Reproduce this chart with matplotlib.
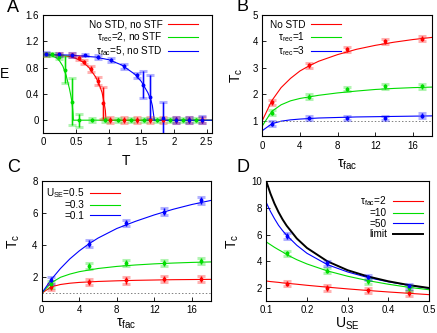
import matplotlib
matplotlib.use("Agg")
import matplotlib.pyplot as plt

plt.rcParams["font.family"] = ["Liberation Sans", "DejaVu Sans"]
plt.rcParams["mathtext.fontset"] = "custom"
plt.rcParams["mathtext.rm"] = "Liberation Sans"
plt.rcParams["mathtext.it"] = "Liberation Sans:italic"

RED = "#ff0000"
GREEN = "#00dd00"
BLUE = "#0000ff"

# ---- panel A: E vs T
a_labels = ["No STD, no STF", "τ$_{\\rm rec}$=2, no STF", "τ$_{\\rm fac}$=5, no STD"]
a_red_T = [0.04, 0.24, 0.44, 0.54, 0.63, 0.73, 0.83, 0.92, 1.02, 1.23, 1.43, 1.63, 1.83, 2.03, 2.23, 2.43]
a_red_E = [1.0, 1.0, 0.99, 0.94, 0.88, 0.78, 0.6, 0.26, 0.0, 0.0, 0.0, 0.0, 0.0, 0.0, 0.0, 0.0]
a_red_err = [0.02, 0.02, 0.03, 0.03, 0.03, 0.04, 0.06, 0.24, 0.05, 0.05, 0.05, 0.05, 0.05, 0.05, 0.05, 0.05]
a_green_T = [0.04, 0.14, 0.24, 0.33, 0.44, 0.54, 0.74, 0.94, 1.14, 1.34, 1.54, 1.74, 1.94, 2.14, 2.34]
a_green_E = [1.0, 1.0, 0.96, 0.77, 0.28, 0.0, 0.0, 0.0, 0.0, 0.0, 0.0, 0.0, 0.0, 0.0, 0.0]
a_green_err = [0.02, 0.02, 0.03, 0.2, 0.36, 0.1, 0.03, 0.03, 0.03, 0.03, 0.03, 0.03, 0.03, 0.03, 0.03]
a_blue_T = [0.04, 0.24, 0.44, 0.64, 0.84, 1.03, 1.23, 1.43, 1.53, 1.63, 1.83, 2.03, 2.23, 2.43]
a_blue_E = [1.01, 1.0, 0.99, 0.99, 0.96, 0.91, 0.82, 0.68, 0.54, 0.35, 0.03, 0.0, 0.0, 0.01]
a_blue_err = [0.02, 0.02, 0.03, 0.02, 0.03, 0.03, 0.04, 0.04, 0.21, 0.33, 0.25, 0.05, 0.05, 0.05]
a_red_fit_T = [0, 0.2, 0.4, 0.5, 0.6, 0.7, 0.8, 0.85, 0.9, 0.93, 0.95, 0.96, 2.58]
a_red_fit_E = [1.0, 0.99, 0.97, 0.94, 0.89, 0.8, 0.66, 0.56, 0.42, 0.27, 0.15, 0.0, 0.0]
a_green_fit_T = [0, 0.1, 0.2, 0.25, 0.3, 0.35, 0.4, 0.42, 0.44, 0.455, 0.46, 2.58]
a_green_fit_E = [1.0, 0.99, 0.95, 0.9, 0.82, 0.68, 0.48, 0.38, 0.27, 0.1, 0.0, 0.0]
a_blue_fit_T = [0, 0.4, 0.8, 1.0, 1.2, 1.4, 1.5, 1.6, 1.65, 1.67, 1.7, 2.58]
a_blue_fit_E = [1.0, 0.99, 0.96, 0.92, 0.84, 0.7, 0.59, 0.42, 0.3, 0.22, 0.0, 0.0]

# ---- panel B: Tc vs tau_fac for different depression
b_labels = ["No STD", "τ$_{\\rm rec}$=1", "τ$_{\\rm rec}$=3"]
b_tau = [1, 5, 9, 13, 17]
b_red = [1.7, 3.1, 3.7, 4.0, 4.1]
b_green = [1.3, 1.9, 2.2, 2.3, 2.3]
b_blue = [0.88, 1.1, 1.1, 1.1, 1.19]
b_err = [0.09, 0.09, 0.09, 0.09, 0.09]
b_fit_tau = [0, 1, 2, 3, 4, 5, 6, 8, 10, 12, 14, 16, 18]
b_red_fit = [1.0, 1.75, 2.25, 2.6, 2.88, 3.08, 3.25, 3.5, 3.7, 3.85, 3.97, 4.07, 4.15]
b_green_fit = [0.8, 1.35, 1.6, 1.75, 1.84, 1.9, 1.96, 2.05, 2.12, 2.18, 2.22, 2.25, 2.27]
b_blue_fit = [0.62, 0.88, 0.98, 1.03, 1.06, 1.08, 1.1, 1.12, 1.14, 1.15, 1.16, 1.17, 1.18]

# ---- panel C: Tc vs tau_fac for different U_SE
c_labels = ["U$_{\\rm SE}$=0.5", "=0.3", "=0.1"]
c_tau = [1, 5, 9, 13, 17]
c_red = [1.4, 1.7, 1.8, 1.9, 1.9]
c_green = [1.55, 2.7, 2.9, 2.9, 3.0]
c_blue = [1.8, 4.1, 5.4, 6.1, 6.8]
c_err = [0.2, 0.2, 0.2, 0.2, 0.2]
c_fit_tau = [0, 1, 2, 3, 4, 5, 6, 8, 10, 12, 14, 16, 18]
c_red_fit = [1.0, 1.4, 1.55, 1.63, 1.68, 1.71, 1.74, 1.78, 1.81, 1.83, 1.85, 1.86, 1.87]
c_green_fit = [1.0, 1.65, 2.0, 2.2, 2.35, 2.45, 2.55, 2.68, 2.77, 2.84, 2.89, 2.93, 2.96]
c_blue_fit = [1.0, 1.85, 2.55, 3.15, 3.65, 4.08, 4.45, 5.05, 5.5, 5.9, 6.25, 6.55, 6.8]

# ---- panel D: Tc vs U_SE
d_labels = ["τ$_{\\rm fac}$=2", "=10", "=50", "limit"]
d_u = [0.15, 0.25, 0.35, 0.45]
d_red = [2.32, 2.0, 1.82, 1.6]
d_green = [4.6, 3.3, 2.5, 1.98]
d_blue = [5.9, 3.85, 2.8, 2.13]
d_err = [0.2, 0.2, 0.2, 0.2]
d_fit_u = [0.1, 0.11, 0.12, 0.13, 0.14, 0.15, 0.175, 0.2, 0.25, 0.3, 0.35, 0.4, 0.45, 0.5]
d_red_fit = [2.52, 2.48, 2.45, 2.42, 2.38, 2.35, 2.28, 2.2, 2.06, 1.93, 1.81, 1.7, 1.6, 1.5]
d_green_fit = [5.45, 5.25, 5.05, 4.87, 4.7, 4.5, 4.12, 3.8, 3.28, 2.88, 2.55, 2.28, 2.05, 1.87]
d_blue_fit = [8.4, 7.75, 7.2, 6.7, 6.3, 5.95, 5.2, 4.6, 3.75, 3.2, 2.78, 2.46, 2.2, 1.98]
d_limit = [10.0, 9.09, 8.33, 7.69, 7.14, 6.67, 5.71, 5.0, 4.0, 3.33, 2.86, 2.5, 2.22, 2.0]


def points(ax, x, y, err, color):
    ax.errorbar(x, y, yerr=err, fmt="none", ecolor=color, alpha=0.3,
                elinewidth=2.2, capsize=2.6, capthick=2.2, zorder=3)
    ax.errorbar(x, y, yerr=err, fmt="o", color=color, ms=2.8, mew=0,
                elinewidth=0.7, capsize=2.2, capthick=0.7, zorder=4)


def style(ax):
    ax.tick_params(direction="in", length=3, width=0.6, top=False, right=False,
                   labelsize=7, pad=3)
    for s in ax.spines.values():
        s.set_linewidth(0.8)


def legend(ax, labels, anchor):
    ax.legend(labels, loc="upper right", bbox_to_anchor=anchor, frameon=False,
              markerfirst=False, fontsize=7.2, labelspacing=0.05,
              handlelength=3.0, handletextpad=0.6, borderpad=0, borderaxespad=0)


fig = plt.figure(figsize=(4.37, 3.33), dpi=100)

# A
ax = fig.add_axes([0.0991, 0.5996, 0.3856, 0.3553])
ax.plot(a_red_fit_T, a_red_fit_E, color=RED, lw=0.8)
ax.plot(a_green_fit_T, a_green_fit_E, color=GREEN, lw=0.8)
ax.plot(a_blue_fit_T, a_blue_fit_E, color=BLUE, lw=0.8)
legend(ax, a_labels, (0.92, 0.96))
points(ax, a_red_T, a_red_E, a_red_err, RED)
points(ax, a_green_T, a_green_E, a_green_err, GREEN)
points(ax, a_blue_T, a_blue_E, a_blue_err, BLUE)
ax.set_xlim(0, 2.58)
ax.set_ylim(-0.2, 1.6)
ax.set_xticks([0, 0.5, 1, 1.5, 2, 2.5], ["0", "0.5", "1", "1.5", "2", "2.5"])
ax.set_yticks([0, 0.4, 0.8, 1.2, 1.6], ["0", "0.4", "0.8", "1.2", "1.6"])
ax.set_xlabel("T", fontsize=10)
ax.set_ylabel("E", fontsize=10, rotation=0, va="center")
ax.xaxis.set_label_coords(0.49, -0.175)
ax.yaxis.set_label_coords(-0.23, 0.5)
style(ax)

# B
ax = fig.add_axes([0.6002, 0.5901, 0.3876, 0.3649])
ax.plot(b_fit_tau, b_red_fit, color=RED, lw=0.8)
ax.plot(b_fit_tau, b_green_fit, color=GREEN, lw=0.8)
ax.plot(b_fit_tau, b_blue_fit, color=BLUE, lw=0.8)
legend(ax, b_labels, (0.465, 0.96))
ax.axhline(1, color="gray", lw=0.7, ls=(0, (1.5, 2)))
points(ax, b_tau, b_red, b_err, RED)
points(ax, b_tau, b_green, b_err, GREEN)
points(ax, b_tau, b_blue, b_err, BLUE)
ax.set_xlim(0, 18)
ax.set_ylim(0.4, 5)
ax.set_xticks([0, 4, 8, 12, 16])
ax.set_yticks([1, 2, 3, 4, 5])
ax.set_xlabel("τ$_{\\rm fac}$", fontsize=10)
ax.set_ylabel("T$_{\\rm c}$", fontsize=10)
ax.xaxis.set_label_coords(0.5, -0.17)
ax.yaxis.set_label_coords(-0.105, 0.5)
style(ax)

# C
ax = fig.add_axes([0.0954, 0.0952, 0.3867, 0.3604])
ax.plot(c_fit_tau, c_red_fit, color=RED, lw=0.8)
ax.plot(c_fit_tau, c_green_fit, color=GREEN, lw=0.8)
ax.plot(c_fit_tau, c_blue_fit, color=BLUE, lw=0.8)
legend(ax, c_labels, (0.463, 0.96))
ax.axhline(1, color="gray", lw=0.7, ls=(0, (1.5, 2)))
points(ax, c_tau, c_red, c_err, RED)
points(ax, c_tau, c_green, c_err, GREEN)
points(ax, c_tau, c_blue, c_err, BLUE)
ax.set_xlim(0, 18)
ax.set_ylim(0.5, 8)
ax.set_xticks([0, 4, 8, 12, 16])
ax.set_yticks([2, 4, 6, 8])
ax.set_xlabel("τ$_{\\rm fac}$", fontsize=10)
ax.set_ylabel("T$_{\\rm c}$", fontsize=10)
ax.xaxis.set_label_coords(0.5, -0.13)
ax.yaxis.set_label_coords(-0.115, 0.5)
style(ax)

# D
ax = fig.add_axes([0.6094, 0.0952, 0.3723, 0.3604])
ax.plot(d_fit_u, d_red_fit, color=RED, lw=0.8)
ax.plot(d_fit_u, d_green_fit, color=GREEN, lw=0.8)
ax.plot(d_fit_u, d_blue_fit, color=BLUE, lw=0.8)
ax.plot(d_fit_u, d_limit, color="black", lw=1.4)
legend(ax, d_labels, (0.963, 0.894))
points(ax, d_u, d_red, d_err, RED)
points(ax, d_u, d_green, d_err, GREEN)
points(ax, d_u, d_blue, d_err, BLUE)
ax.set_xlim(0.1, 0.5)
ax.set_ylim(1, 10)
ax.set_xticks([0.1, 0.2, 0.3, 0.4, 0.5])
ax.set_yticks([2, 4, 6, 8, 10])
ax.set_xlabel("U$_{\\rm SE}$", fontsize=10)
ax.set_ylabel("T$_{\\rm c}$", fontsize=10)
ax.xaxis.set_label_coords(0.5, -0.12)
ax.yaxis.set_label_coords(-0.155, 0.5)
style(ax)

for letter, x, y in [("A", 0.03, 0.976), ("B", 0.556, 0.979), ("C", 0.03, 0.496), ("D", 0.556, 0.496)]:
    fig.text(x, y, letter, fontsize=13, ha="center", va="center")

fig.savefig("out.png", dpi=100)
